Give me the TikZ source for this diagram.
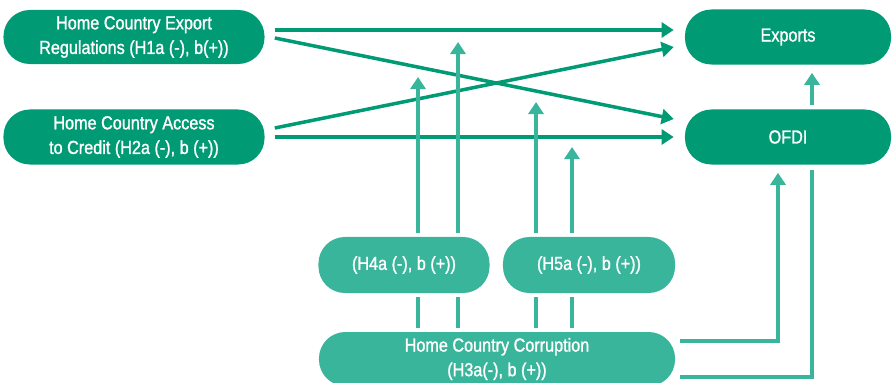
\documentclass[tikz,border=0pt]{standalone}
\usepackage{fontspec}
\setmainfont[FakeStretch=0.86, FakeBold=1.2]{Liberation Sans}
\usetikzlibrary{arrows.meta}
\usetikzlibrary{calc, positioning}

\definecolor{darkteal}{RGB}{0,154,116}
\definecolor{midteal}{RGB}{56,181,155}

\tikzset{
  pill/.style={fill=darkteal, text=white, rounded corners=0.66cm, align=center,
    inner sep=0pt, font=\fontsize{13.4}{17.5}\selectfont},
  lightpill/.style={pill, fill=midteal},
  flow/.style={line width=2.5pt, darkteal, -{Triangle[width=0.375cm, length=0.3cm]}},
  modline/.style={line width=2.5pt, midteal},
  modflow/.style={modline, -{Triangle[width=0.375cm, length=0.3cm]}},
}

\begin{document}
\begin{tikzpicture}[x=0.025cm, y=-0.025cm]

  \useasboundingbox (0,0) rectangle (892,382);

  % outcome and antecedent nodes
  \node[pill, minimum width=6.525cm, minimum height=1.35cm] (exp-reg) at (134,37)
    {Home Country Export\\Regulations (H1a (-), b(+))};
  \node[pill, minimum width=6.525cm, minimum height=1.375cm] (credit) at (134,137)
    {Home Country Access\\to Credit (H2a (-), b (+))};
  \node[pill, minimum width=5.15cm, minimum height=1.375cm] (exports) at (788,37) {Exports};
  \node[pill, minimum width=5.15cm, minimum height=1.375cm] (ofdi) at (788,137) {OFDI};

  % moderators
  \node[lightpill, minimum width=4.275cm, minimum height=1.4cm] (h-four) at (404,265) {(H4a (-), b (+))};
  \node[lightpill, minimum width=4.3cm, minimum height=1.4cm] (h-five) at (589,265) {(H5a (-), b (+))};
  \node[lightpill, minimum width=8.9cm, minimum height=1.35cm] (corruption) at (497,359)
    {Home Country Corruption\\(H3a(-), b (+))};

  % direct effects
  \draw[flow] ($(exp-reg.east)+(10,-7)$) to ($(exports.west)+(-11,-7)$);
  \draw[flow] ($(exp-reg.east)+(10,1)$) to ($(ofdi.west)+(-11,-18)$);
  \draw[flow] ($(credit.east)+(10,-9)$) to ($(exports.west)+(-11,10)$);
  \draw[flow] ($(credit.east)+(10,0)$) to ($(ofdi.west)+(-11,0)$);

  % moderating arrows
  \coordinate (h4-tip-1) at (418,77);
  \coordinate (h4-tip-2) at (458,42);
  \coordinate (h5-tip-1) at (536,102);
  \coordinate (h5-tip-2) at (572,147);

  \foreach \m/\t in {h-four/h4-tip-1, h-four/h4-tip-2, h-five/h5-tip-1, h-five/h5-tip-2} {
    \draw[modline, shorten <=0.1cm, shorten >=0.1cm] (corruption.north -| \t) to (\m.south -| \t);
    \draw[modflow, shorten <=0.1cm] (\m.north -| \t) to (\t);
  }

  % corruption to ofdi, ofdi to exports
  \draw[modflow] ($(corruption.east)+(5,-18)$) -| ($(ofdi.south)+(-10,8)$);
  \draw[modline] ($(corruption.east)+(5,18)$) -| ($(ofdi.south)+(24,5)$);
  \draw[modflow] ($(ofdi.north)+(24,-4)$) to ($(exports.south)+(24,8)$);

\end{tikzpicture}
\end{document}
